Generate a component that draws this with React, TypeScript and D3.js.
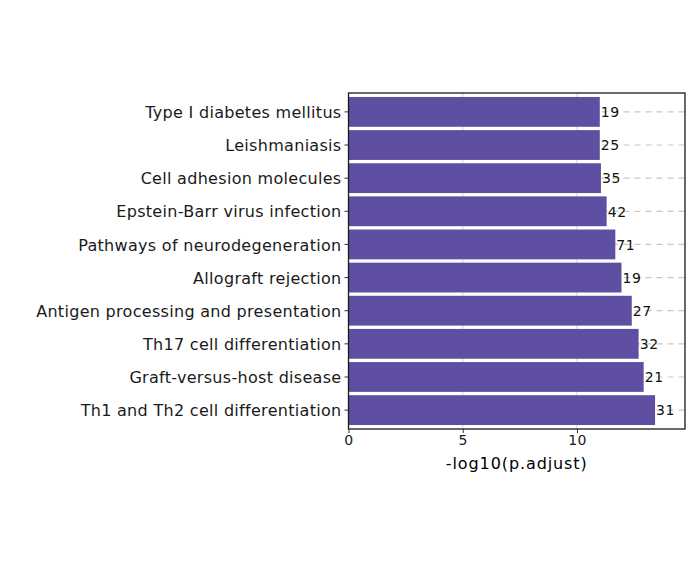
import * as d3 from 'd3';
import { useRef, useEffect } from "react"

const pathways = [
    "Type I diabetes mellitus",
    "Leishmaniasis",
    "Cell adhesion molecules",
    "Epstein-Barr virus infection",
    "Pathways of neurodegeneration",
    "Allograft rejection",
    "Antigen processing and presentation",
    "Th17 cell differentiation",
    "Graft-versus-host disease",
    "Th1 and Th2 cell differentiation",
]
const negLogP = [11.0, 11.0, 11.05, 11.3, 11.68, 11.95, 12.4, 12.7, 12.92, 13.42]
const geneCounts = [19, 25, 35, 42, 71, 19, 27, 32, 21, 31]
const xTicks = [0, 5, 10]

function App() {
    const ref = useRef<SVGSVGElement | null>(null)

    useEffect(() => {
        document.body.style.margin = "0";
        renderChart();
    }, [])

    function renderChart() {
        const font = "'DejaVu Sans'"
        const panel = { left: 348.5, right: 685, top: 93, bottom: 429 }

        const svg = d3.select(ref.current!)
        svg.selectAll("*").remove()

        const x = d3.scaleLinear()
            .domain([0, 14.73])
            .range([panel.left, panel.right]);

        const y = d3.scaleBand<string>()
            .domain(pathways)
            .range([panel.top, panel.bottom])
            .paddingInner(0.1)
            .paddingOuter(0.12);

        const rows = pathways.map((p, i) => ({ name: p, value: negLogP[i], count: geneCounts[i] }))

        // vertical grid
        svg.append("g")
            .selectAll("line")
            .data(xTicks.slice(1))
            .enter()
            .append("line")
            .attr("x1", d => x(d)).attr("x2", d => x(d))
            .attr("y1", panel.top).attr("y2", panel.bottom)
            .attr("stroke", "#d0d0d0")
            .attr("stroke-width", 1);

        // horizontal dashed grid
        svg.append("g")
            .selectAll("line")
            .data(pathways)
            .enter()
            .append("line")
            .attr("x1", panel.left).attr("x2", panel.right)
            .attr("y1", d => y(d)! + y.bandwidth() / 2)
            .attr("y2", d => y(d)! + y.bandwidth() / 2)
            .attr("stroke", "#c8c8c8")
            .attr("stroke-width", 1.2)
            .attr("stroke-dasharray", "6,5");

        // bars
        svg.append("g")
            .selectAll("rect")
            .data(rows)
            .enter()
            .append("rect")
            .attr("x", x(0))
            .attr("y", d => y(d.name)!)
            .attr("width", d => x(d.value) - x(0))
            .attr("height", y.bandwidth())
            .style("fill", "#5E4FA2");

        // count labels
        svg.append("g")
            .selectAll("text")
            .data(rows)
            .enter()
            .append("text")
            .attr("x", d => x(d.value) + 1)
            .attr("y", d => y(d.name)! + y.bandwidth() / 2)
            .attr("dy", "0.38em")
            .style("font-family", font)
            .attr("font-size", 14)
            .attr("letter-spacing", 0.6)
            .attr("fill", "#111")
            .text(d => d.count);

        // panel border
        svg.append("rect")
            .attr("x", panel.left).attr("y", panel.top)
            .attr("width", panel.right - panel.left)
            .attr("height", panel.bottom - panel.top)
            .attr("fill", "none")
            .attr("stroke", "#1a1a1a")
            .attr("stroke-width", 1.3);

        // y axis
        const yAxis = svg.append("g")
            .attr("transform", "translate(" + panel.left + ",0)")
            .call(d3.axisLeft(y).tickSize(4).tickPadding(3));
        yAxis.attr("font-family", null);
        yAxis.select(".domain").remove();
        yAxis.selectAll("line").attr("stroke", "#333");
        yAxis.selectAll("text")
            .style("font-family", font)
            .attr("font-size", 16)
            .attr("dy", "0.38em")
            .attr("letter-spacing", 0.3)
            .attr("fill", "#1a1a1a");

        // x axis
        const xAxis = svg.append("g")
            .attr("transform", "translate(0," + panel.bottom + ")")
            .call(d3.axisBottom(x).tickValues(xTicks).tickSize(4).tickPadding(2));
        xAxis.attr("font-family", null);
        xAxis.select(".domain").remove();
        xAxis.selectAll("line").attr("stroke", "#333");
        xAxis.selectAll("text")
            .style("font-family", font)
            .attr("font-size", 14)
            .attr("letter-spacing", 0.4)
            .attr("fill", "#1a1a1a");

        // x title
        svg.append("text")
            .attr("text-anchor", "middle")
            .attr("x", (panel.left + panel.right) / 2)
            .attr("y", 469)
            .style("font-family", font)
            .attr("font-size", 16)
            .attr("letter-spacing", 0.9)
            .attr("fill", "#000")
            .text("-log10(p.adjust)");
    }

    return (
        <svg width={700} height={566} ref={ref} style={{ display: "block", background: "#fff" }} />
    )
}

export default App;
